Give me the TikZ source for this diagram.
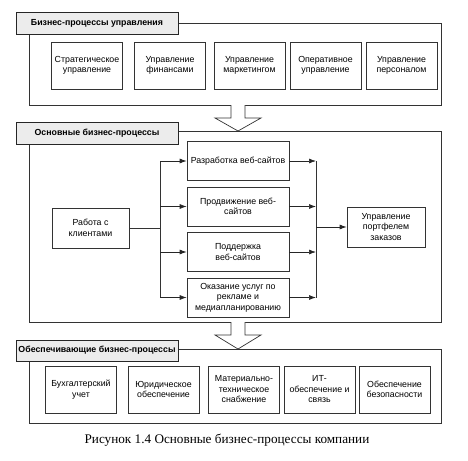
\documentclass[tikz,border=0pt]{standalone}
\usepackage{fontspec}
\setmainfont{Liberation Sans}
\newfontfamily\capfont{Liberation Serif}
\usetikzlibrary{arrows.meta,positioning,calc}

\begin{document}
\begin{tikzpicture}[x=1pt,y=-1pt,every node/.style={font=\fontsize{8.8}{10.5}\selectfont},
 bx/.style={draw=black!80,line width=0.7pt,minimum width=71pt,minimum height=47pt,align=center,inner sep=1pt},
 ttl/.style={draw=black!85,line width=0.8pt,fill=gray!15,minimum width=162pt,minimum height=22pt,inner sep=1pt,font=\fontsize{8.8}{10}\selectfont\bfseries},
 frm/.style={draw=black!80,line width=0.7pt},
 arr/.style={-{Latex[length=7pt,width=5pt]},line width=0.7pt,draw=black!85},
 bigarr/.style={draw=black!80,line width=0.7pt,fill=white}]
\useasboundingbox (0,0) rectangle (468,460);
% management processes
\draw[frm] (29,23.5) rectangle (441,105);
\node[ttl] (t1) at (97,23.5) {Бизнес-процессы управления};
\foreach \i/\x/\txt in {1/87/{Стратегическое\\управление},2/170/{Управление\\финансами},3/249.5/{Управление\\маркетингом},4/325.5/{Оперативное\\управление},5/401.5/{Управление\\персоналом}}{
 \node[bx] (u\i) at (\x,65.5) {\txt};}
\draw[bigarr] (231,105) -- (231,118) -- (215,118) -- (238,131) -- (261,118) -- (245,118) -- (245,105);
% core processes
\draw[frm] (29,131) rectangle (441,322);
\node[ttl] (t2) at (97,133) {Основные бизнес-процессы};
\node[bx,minimum width=77pt,minimum height=40pt] (cl) at (90.5,228) {Работа с\\клиентами};
\node[bx,minimum width=78pt,minimum height=40pt] (pf) at (386,227) {Управление\\портфелем\\заказов};
\foreach \k/\y/\txt in {1/161/{Разработка веб-сайтов},2/206.5/{Продвижение веб-\\сайтов},3/252/{Поддержка\\веб-сайтов},4/297.5/{Оказание услуг по\\рекламе и\\медиапланированию}}{
 \node[bx,minimum width=102pt,minimum height=39pt] (w\k) at (238,\y) {\txt};}
\coordinate (bl) at (160,0);
\coordinate (br) at (316,0);
\draw[frm] (cl.east) -- (cl.east -| bl);
\draw[frm] (w1.west -| bl) -- (w4.west -| bl);
\draw[frm] (w1.east -| br) -- (w4.east -| br);
\foreach \k in {1,2,3,4}{
 \draw[arr] (w\k.west -| bl) -- (w\k.west);
 \draw[arr] (w\k.east) -- (w\k.east -| br);}
\draw[arr] (pf.west -| br) -- (pf.west);
\draw[bigarr] (231,322) -- (231,335) -- (215,335) -- (238,349) -- (261,335) -- (245,335) -- (245,322);
% support processes
\draw[frm] (29,349) rectangle (441,423);
\node[ttl,minimum height=21pt] (t3) at (97,350.5) {Обеспечивающие бизнес-процессы};
\foreach \i/\x/\txt in {1/81/{Бухгалтерский\\учет},2/163.5/{Юридическое\\обеспечение},3/244/{Материально-\\техническое\\снабжение},4/319.5/{ИТ-\\обеспечение и\\связь},5/394.5/{Обеспечение\\безопасности}}{
 \node[bx] (s\i) at (\x,389.5) {\txt};}
\node[font=\capfont\fontsize{13.2}{15}\selectfont] (cap) at (227,440) {Рисунок 1.4 Основные бизнес-процессы компании};
\end{tikzpicture}
\end{document}
